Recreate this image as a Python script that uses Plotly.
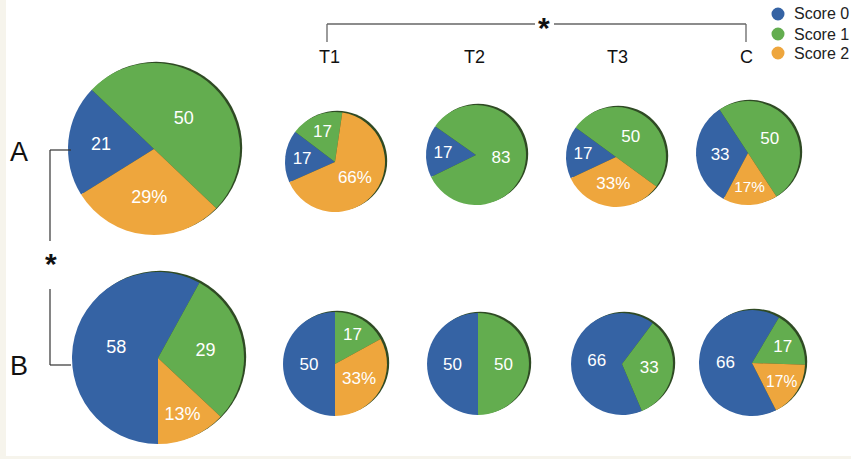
import plotly.graph_objects as go

W, H = 851, 459

# ---- data ----
score_labels = ["Score 0", "Score 1", "Score 2"]
groups = ["A", "B"]
conditions = ["All", "T1", "T2", "T3", "C"]
values_A = [[21, 50, 29], [17, 17, 66], [17, 83, 0], [17, 50, 33], [33, 50, 17]]
values_B = [[58, 29, 13], [50, 17, 33], [50, 50, 0], [66, 33, 0], [66, 17, 17]]
column_titles = ["T1", "T2", "T3", "C"]

# ---- styles / layout ----
colors = ["#3563a4", "#63ad4f", "#eea63d"]
font_family = "Liberation Sans, Arial, sans-serif"
# pie centers (px), radii (px), start rotation (deg clockwise from 12 o'clock)
geom_A = [(154, 149, 86, 238), (335, 162, 50, 246), (476, 155, 50, 244),
          (616, 157, 50, 245), (748, 153, 52, 208)]
geom_B = [(158, 358, 86, 180), (335, 364, 52, 180), (478, 364, 51, 180),
          (622, 364, 51, 157), (752, 363, 53, 153)]


def px(x):
    return x / W


def py(y):
    return 1 - y / H


fig = go.Figure()
shapes = []
annotations = []

for vals_row, geom_row in ((values_A, geom_A), (values_B, geom_B)):
    for vals, (cx, cy, r, rot) in zip(vals_row, geom_row):
        labs, vs, txt, cols = [], [], [], []
        for lab, v, c in zip(score_labels, vals, colors):
            if v > 0:
                labs.append(lab)
                vs.append(v)
                txt.append(f"{v}%" if lab == "Score 2" else str(v))
                cols.append(c)
        fs = 18 if r > 70 else 17
        fig.add_trace(go.Pie(
            labels=labs, values=vs, text=txt, textinfo="text",
            textposition="inside", insidetextorientation="horizontal",
            textfont=dict(color="white", size=fs, family=font_family),
            marker=dict(colors=cols, line=dict(width=0)),
            sort=False, direction="clockwise", rotation=rot,
            showlegend=False, hoverinfo="label+value",
            domain=dict(x=[px(cx - r), px(cx + r)], y=[py(cy + r), py(cy - r)]),
        ))
        # subtle 3D edge shadow
        shapes.append(dict(type="circle", xref="paper", yref="paper", layer="below",
                           x0=px(cx - r + 2.2), x1=px(cx + r + 2.2),
                           y0=py(cy + r - 1.2), y1=py(cy - r - 1.2),
                           fillcolor="#2f4a24", line=dict(width=0)))

# legend (circle markers + labels)
legend_y = [14, 34, 53]
for lab, c, ly in zip(score_labels, colors, legend_y):
    shapes.append(dict(type="circle", xref="paper", yref="paper",
                       x0=px(771.5), x1=px(784.5), y0=py(ly + 6.5), y1=py(ly - 6.5),
                       fillcolor=c, line=dict(width=0)))
    annotations.append(dict(text=lab, x=px(792), y=py(ly), xref="paper", yref="paper",
                            showarrow=False, xanchor="left", yanchor="middle",
                            font=dict(size=16, color="#222222", family=font_family)))

# background strips
shapes.append(dict(type="rect", xref="paper", yref="paper", layer="below",
                   x0=0, x1=px(6), y0=0, y1=1, fillcolor="#f6f4ec", line=dict(width=0)))
shapes.append(dict(type="rect", xref="paper", yref="paper", layer="below",
                   x0=0, x1=1, y0=0, y1=py(456), fillcolor="#f6f4ec", line=dict(width=0)))

# top bracket
top_col = "#666666"
for (x0, y0, x1, y1) in [(327, 42, 327, 24), (327, 24, 535, 24), (554, 24, 746, 24), (746, 24, 746, 42)]:
    shapes.append(dict(type="line", xref="paper", yref="paper",
                       x0=px(x0), y0=py(y0), x1=px(x1), y1=py(y1),
                       line=dict(color=top_col, width=1.3)))
# left bracket
for (x0, y0, x1, y1) in [(71, 150, 50, 150), (50, 150, 50, 241), (50, 289, 50, 365), (50, 365, 71, 365)]:
    shapes.append(dict(type="line", xref="paper", yref="paper",
                       x0=px(x0), y0=py(y0), x1=px(x1), y1=py(y1),
                       line=dict(color="#333333", width=1.2)))


def ann(text, x, y, size):
    annotations.append(dict(text=text, x=px(x), y=py(y), xref="paper", yref="paper",
                            showarrow=False, xanchor="center", yanchor="middle",
                            font=dict(size=size, color="#111111", family=font_family)))


ann(groups[0], 19, 152, 27)
ann(groups[1], 19, 366, 27)
for t, x in zip(column_titles, [329, 474, 617, 746]):
    ann(t, x, 57, 18)
ann("<b>*</b>", 544, 27, 30)
ann("<b>*</b>", 51, 263, 30)

fig.update_layout(
    width=W, height=H,
    margin=dict(l=0, r=0, t=0, b=0),
    paper_bgcolor="white", plot_bgcolor="white",
    shapes=shapes, annotations=annotations,
    showlegend=False,
    font=dict(family=font_family),
)

fig.write_html("out.html", config={"displayModeBar": False},
               post_script="document.body.style.margin='0';")
